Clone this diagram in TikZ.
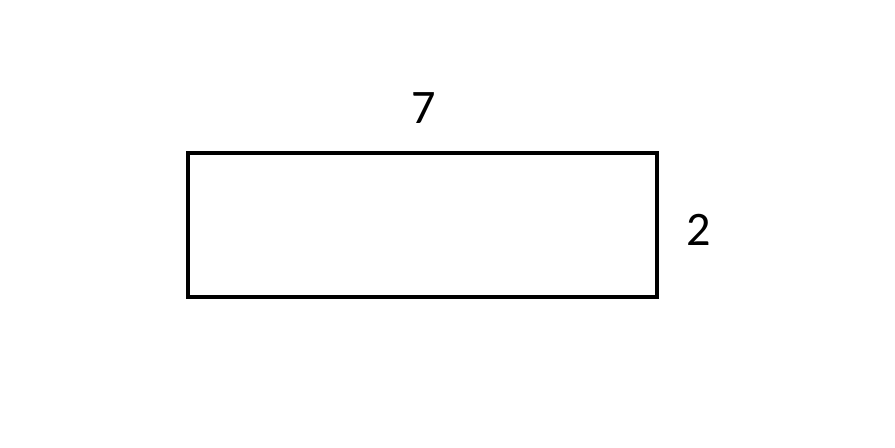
\documentclass[tikz,border=0pt]{standalone}
\usepackage{fontspec}
\setmainfont{Carlito}
\usetikzlibrary{positioning}

\begin{document}
\begin{tikzpicture}[
    side/.style={inner sep=0, font=\fontsize{13.7}{16}\selectfont}
  ]
    \useasboundingbox (0,0) rectangle (8.95,4.48);
    \node[draw, line width=0.045cm, inner sep=0,
      minimum width=4.69cm, minimum height=1.44cm] (box) at (4.225,2.23) {};
    \node[side, above=0.27cm of box, xshift=0.01cm] (len) {7};
    \node[side, right=0.27cm of box, yshift=-0.05cm] (wid) {2};
  \end{tikzpicture}
\end{document}
